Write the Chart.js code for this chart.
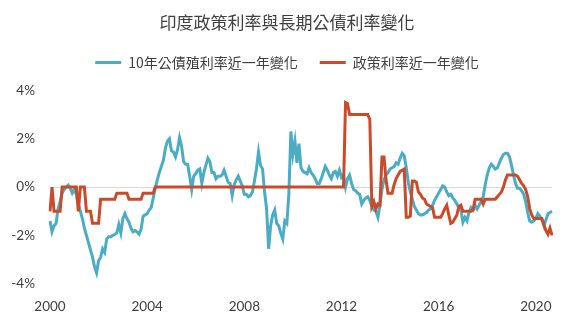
<!DOCTYPE html>
<html>
<head>
<meta charset="utf-8">
<script src="https://cdn.jsdelivr.net/npm/chart.js@4"></script>
<style>
  html, body { margin: 0; padding: 0; background: #fff; }
  #rates { display: block; }
</style>
</head>
<body>
<canvas id="rates" width="584" height="332"></canvas>
<script>
// year-on-year change (percentage points), monthly from Jan 2000
const bondChange = [
  -1.4, -1.85, -1.6, -1.5, -0.9, -0.6, -0.25, -0.1, 0.0, 0.08, -0.05, -0.25,
  -0.1, -0.3, -0.7, -1.0, -1.3, -1.7, -2.0, -2.3, -2.6, -2.9, -3.3, -3.55,
  -3.05, -2.9, -2.55, -2.7, -2.15, -2.05, -2.05, -2.0, -1.95, -1.9, -1.55, -1.9,
  -1.3, -1.1, -1.3, -1.45, -1.7, -1.85, -1.8, -1.85, -1.95, -1.75, -1.2, -1.15,
  -1.1, -0.95, -0.85, -0.45, -0.05, 0.3, 0.6, 0.85, 1.1, 1.6, 1.9, 2.0,
  1.5, 1.45, 1.25, 1.55, 2.05, 1.7, 1.05, 0.95, 0.95, 0.45, -0.1, 0.45,
  0.55, 0.7, 0.75, 0.15, 0.6, 0.9, 1.2, 1.05, 0.6, 0.6, 0.35, 0.45,
  0.45, 0.5, 0.7, 0.45, 0.2, 0.15, -0.35, 0.1, 0.3, 0.45, 0.25, 0.05,
  -0.3, -0.3, -0.4, -0.35, -0.2, 0.25, 0.75, 1.45, 0.9, 0.75, -0.2, -0.9,
  -2.55, -1.6, -1.15, -0.95, -1.5, -1.6, -1.9, -2.15, -1.4, -1.5, -0.3, 2.3,
  1.35, 1.9, 1.0, 1.8, 0.8, 0.65, 0.6, 0.55, 0.8, 0.6, 0.5, 0.35,
  0.15, 0.15, 0.35, 0.6, 0.85, 0.7, 0.5, 0.35, 0.6, 0.65, 0.45, 0.7,
  0.4, 0.5, 0.0, 0.35, 0.5, 0.15, -0.1, -0.15, -0.25, -0.3, -0.7, -0.55,
  -0.45, -0.4, -0.55, -0.8, -0.95, -1.0, -1.25, -0.75, -0.1, 0.3, 0.5, 0.6,
  0.75, 0.8, 0.85, 1.0, 0.95, 1.2, 1.4, 1.3, 0.8, 0.2, -0.2, -0.5,
  -0.8, -0.95, -1.1, -1.15, -1.15, -1.1, -1.05, -0.95, -0.9, -0.75, -0.55, -0.4,
  -0.25, -0.1, 0.05, 0.0, -0.2, -0.35, -0.3, -0.45, -0.55, -0.7, -0.85, -0.95,
  -1.45, -1.25, -1.4, -1.05, -0.85, -0.95, -0.75, -0.9, -0.75, -0.6, -0.4, 0.1,
  0.5, 0.8, 0.95, 0.85, 0.75, 0.8, 1.0, 1.2, 1.35, 1.4, 1.4, 1.25,
  0.9, 0.5, 0.15, -0.05, -0.05, -0.15, -0.3, -0.6, -1.05, -1.4, -1.45, -1.4,
  -1.3, -1.1, -1.2, -1.35, -1.6, -1.35, -1.1, -1.05, -1.0
];

const policyChange = [
  -1.0, 0.0, -1.0, -1.0, -1.0, -1.0, 0, 0, 0, 0, 0, 0,
  0, 0, -1.0, 0, 0, 0, -1.0, -1.0, -1.0, -1.5, -1.5, -1.5,
  -1.5, -0.5, -0.5, -0.5, -0.5, -0.5, -0.5, -0.5, -0.5, -0.25, -0.25, -0.25,
  -0.25, -0.25, -0.25, -0.5, -0.5, -0.5, -0.5, -0.5, -0.5, -0.5, -0.25, -0.25,
  -0.25, -0.25, -0.25, -0.25, 0, 0, 0, 0, 0, 0, 0, 0,
  0, 0, 0, 0, 0, 0, 0, 0, 0, 0, 0, 0,
  0, 0, 0, 0, 0, 0, 0, 0, 0, 0, 0, 0,
  0, 0, 0, 0, 0, 0, 0, 0, 0, 0, 0, 0,
  0, 0, 0, 0, 0, 0, 0, 0, 0, 0, 0, 0,
  0, 0, 0, 0, 0, 0, 0, 0, 0, 0, 0, 0,
  0, 0, 0, 0, 0, 0, 0, 0, 0, 0, 0, 0,
  0, 0, 0, 0, 0, 0, 0, 0, 0, 0, 0, 0,
  0, 0, 3.5, 3.45, 3.0, 3.0, 3.0, 3.0, 3.0, 3.0, 3.0, 3.0,
  3.0, 3.0, 2.8, -0.8, -0.6, -0.9, -0.7, -0.75, 1.25, 1.25, 0.3, -0.25,
  -0.25, -0.25, 0.1, 0.35, 0.5, 0.65, 0.7, 0.75, -1.25, -1.25, -1.2, 0.25,
  0.25, 0.2, -0.2, -0.3, -0.45, -0.5, -0.7, -0.75, -0.8, -0.85, -1.25, -1.25,
  -1.25, -1.25, -1.1, -0.9, -0.75, -1.15, -1.5, -1.45, -1.3, -1.15, -0.8, -0.75,
  -1.0, -1.0, -1.0, -1.0, -1.0, -0.95, -0.5, -0.5, -0.5, -0.5, -0.7, -0.5,
  -0.5, -0.5, -0.5, -0.5, -0.5, -0.4, -0.3, -0.2, 0.0, 0.3, 0.5, 0.5,
  0.5, 0.5, 0.5, 0.45, 0.3, 0.15, 0.05, -0.1, -0.4, -0.9, -1.15, -1.3,
  -1.3, -1.3, -1.3, -1.3, -1.55, -1.8, -1.95, -1.7, -2.0
];

const yearTicks = ["2000", "2004", "2008", "2012", "2016", "2020"];
const yTicks = [-4, -2, 0, 2, 4];

// month labels like "2003-07"
const monthLabels = [];
for (let i = 0; i < bondChange.length; i++) {
  const yr = 2000 + Math.floor(i / 12);
  const mo = (i % 12) + 1;
  monthLabels.push(yr + "-" + (mo < 10 ? "0" + mo : mo));
}

const BLUE = "#4BACC6";
const RED = "#CB4A2A";
const TEXT = "#404040";
const CJK = "'Noto Sans CJK TC', 'Noto Sans', sans-serif";

// extra room under the legend
const legendGap = {
  id: "legendGap",
  beforeInit(chart) {
    const fit = chart.legend.fit;
    chart.legend.fit = function () {
      fit.bind(chart.legend)();
      this.height += 11;
    };
  },
};

// centre title and legend on the whole canvas rather than the padded box
const headerShift = {
  id: "headerShift",
  afterLayout(chart) {
    [chart.titleBlock, chart.legend].forEach((box) => {
      box.left += 11;
      box.right += 11;
    });
  },
};

const canvas = document.getElementById("rates");
const myChart = new Chart(canvas.getContext("2d"), {
  type: "line",
  data: {
    labels: monthLabels,
    datasets: [
      {
        label: "10年公債殖利率近一年變化",
        data: bondChange,
        borderColor: BLUE,
        backgroundColor: BLUE,
        borderWidth: 3,
        pointRadius: 0,
        order: 1,
      },
      {
        label: "政策利率近一年變化",
        data: policyChange,
        borderColor: RED,
        backgroundColor: RED,
        borderWidth: 3,
        pointRadius: 0,
        order: 0,
      },
    ],
  },
  options: {
    responsive: false,
    animation: false,
    layout: { padding: { left: 0, right: 32, top: 0, bottom: 10 } },
    plugins: {
      tooltip: { enabled: false },
      title: {
        display: true,
        text: "印度政策利率與長期公債利率變化",
        color: TEXT,
        font: { family: CJK, size: 17, weight: "normal" },
        padding: { top: 12, bottom: 1 },
      },
      legend: {
        position: "top",
        labels: {
          color: TEXT,
          font: { family: CJK, size: 14 },
          boxWidth: 26,
          boxHeight: 3,
          padding: 22,
          sort: (a, b) => a.datasetIndex - b.datasetIndex,
          generateLabels: (chart) =>
            Chart.defaults.plugins.legend.labels
              .generateLabels(chart)
              .map((l) => Object.assign(l, { lineWidth: 0 })),
        },
      },
    },
    scales: {
      x: {
        grid: { display: false },
        border: { display: false },
        afterBuildTicks: (axis) => {
          axis.ticks = yearTicks.map((y) => ({ value: monthLabels.indexOf(y + "-01") }));
        },
        ticks: {
          autoSkip: false,
          maxRotation: 0,
          padding: 7,
          color: TEXT,
          font: { family: "Lato", size: 13.5 },
          callback: (v) => monthLabels[v].slice(0, 4),
        },
      },
      y: {
        min: -4,
        max: 4,
        afterFit: (scale) => {
          scale.width = 50;
        },
        afterBuildTicks: (axis) => {
          axis.ticks = yTicks.map((v) => ({ value: v }));
        },
        grid: {
          drawTicks: false,
          color: (ctx) => (ctx.tick && ctx.tick.value === 0 ? "#d9d9d9" : "rgba(0,0,0,0)"),
        },
        border: { display: false },
        ticks: {
          padding: 15,
          color: TEXT,
          font: { family: "Lato", size: 13.5 },
          callback: (v) => v + "%",
        },
      },
    },
  },
  plugins: [legendGap, headerShift],
});
</script>
</body>
</html>
